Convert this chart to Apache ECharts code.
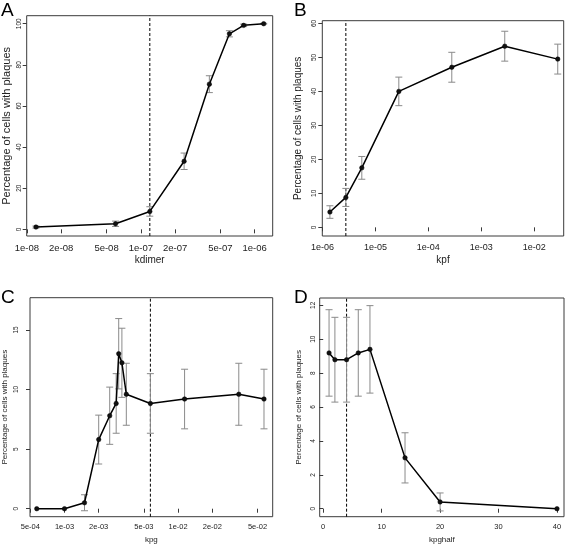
<!DOCTYPE html>
<html>
<head>
<meta charset="utf-8">
<script src="https://cdn.jsdelivr.net/npm/echarts@6/dist/echarts.min.js"></script>
<style>
html,body{margin:0;padding:0;background:#fff;}
#chart{width:567px;height:552px;}
</style>
</head>
<body>
<div id="chart"></div>
<script>
// ---- Panel A: kdimer ----
const kdimer = [1.2e-8, 6e-8, 1.2e-7, 2.4e-7, 4e-7, 6e-7, 8e-7, 1.2e-6];
const pctA = [1.1, 2.7, 8.7, 33.1, 70.6, 95.1, 99.2, 100];
const errA = [0.5, 1.3, 2.3, 4.0, 4.1, 1.5, 0.6, 0.2];
const vlineA = 1.2e-7;
const xTicksA = [1e-8, 2e-8, 5e-8, 1e-7, 2e-7, 5e-7, 1e-6];
const xLabelsA = ['1e-08', '2e-08', '5e-08', '1e-07', '2e-07', '5e-07', '1e-06'];
const yTicksA = [0, 20, 40, 60, 80, 100];

// ---- Panel B: kpf ----
const kpf = [1.385e-6, 2.77e-6, 5.54e-6, 2.77e-5, 2.77e-4, 2.77e-3, 2.77e-2];
const pctB = [4.5, 8.8, 17.5, 40.0, 47.1, 53.3, 49.5];
const errB = [1.85, 2.65, 3.35, 4.2, 4.4, 4.4, 4.4];
const vlineB = 2.77e-6;
const xTicksB = [1e-6, 1e-5, 1e-4, 1e-3, 1e-2];
const xLabelsB = ['1e-06', '1e-05', '1e-04', '1e-03', '1e-02'];
const yTicksB = [0, 10, 20, 30, 40, 50, 60];

// ---- Panel C: kpg ----
const kpg = [5.7e-4, 1e-3, 1.5e-3, 2e-3, 2.5e-3, 2.85e-3, 3e-3, 3.2e-3, 3.5e-3, 5.7e-3, 1.14e-2, 3.42e-2, 5.7e-2];
const pctC = [0, 0, 0.5, 5.8, 7.8, 8.83, 13.0, 12.24, 9.6, 8.83, 9.2, 9.6, 9.2];
const errC = [0, 0, 0.67, 2.05, 2.4, 2.5, 2.95, 2.9, 2.6, 2.5, 2.5, 2.6, 2.5];
const vlineC = 5.7e-3;
const xTicksC = [5e-4, 1e-3, 2e-3, 5e-3, 1e-2, 2e-2, 5e-2];
const xLabelsC = ['5e-04', '1e-03', '2e-03', '5e-03', '1e-02', '2e-02', '5e-02'];
const yTicksC = [0, 5, 10, 15];

// ---- Panel D: kpghalf ----
const kpghalf = [1, 2, 4, 6, 8, 14, 20, 40];
const pctD = [9.19, 8.79, 8.79, 9.19, 9.4, 3.0, 0.4, 0];
const errD = [2.55, 2.5, 2.5, 2.55, 2.58, 1.48, 0.53, 0];
const vlineD = 4;
const xTicksD = [0, 10, 20, 30, 40];
const xLabelsD = ['0', '10', '20', '30', '40'];
const yTicksD = [0, 2, 4, 6, 8, 10, 12];

const yTitle = 'Percentage of cells with plaques';
const FONT = '"Liberation Sans", Arial, Helvetica, sans-serif';

const panels = [
  {letter:'A', xname:'kdimer', xs:kdimer, ys:pctA, es:errA, vline:vlineA, xt:xTicksA, xl:xLabelsA, yt:yTicksA,
   log:true, xmin:0.995e-8, xmax:1.44e-6, ymin:-3.24, ymax:103.9,
   grid:{left:26.7, top:15.7, width:246, height:220.3},
   xfs:9.5, xmargin:7, yfs:6.5, ymargin:4, ytfs:11, ytx:7, xtfs:10, xty:260,
   lx:1, ly:1},
  {letter:'B', xname:'kpf', xs:kpf, ys:pctB, es:errB, vline:vlineB, xt:xTicksB, xl:xLabelsB, yt:yTicksB,
   log:true, xmin:0.995e-6, xmax:0.0359, ymin:-2.55, ymax:60.8,
   grid:{left:322.3, top:20.7, width:241.4, height:215.3},
   xfs:9, xmargin:7, yfs:6.5, ymargin:5, ytfs:10, ytx:298.5, xtfs:10, xty:260,
   lx:294, ly:1},
  {letter:'C', xname:'kpg', xs:kpg, ys:pctC, es:errC, vline:vlineC, xt:xTicksC, xl:xLabelsC, yt:yTicksC,
   log:true, xmin:4.97e-4, xmax:0.068, ymin:-0.67, ymax:17.7,
   grid:{left:30, top:297.7, width:242.7, height:219},
   xfs:7.5, xmargin:6, yfs:6.5, ymargin:10, ytfs:8, ytx:4.5, xtfs:8, xty:540,
   lx:1, ly:288},
  {letter:'D', xname:'kpghalf', xs:kpghalf, ys:pctD, es:errD, vline:vlineD, xt:xTicksD, xl:xLabelsD, yt:yTicksD,
   log:false, xmin:-0.6, xmax:41.2, ymin:-0.47, ymax:12.43,
   grid:{left:319.7, top:298, width:244.3, height:218.7},
   xfs:7.5, xmargin:6, yfs:6.5, ymargin:3, ytfs:8, ytx:298.5, xtfs:8, xty:540,
   lx:294, ly:288}
];

const grids = [], xAxes = [], yAxes = [], series = [], graphics = [];

function nearestLabel(v, ticks, labels, log) {
  let best = 0, bd = Infinity;
  for (let i = 0; i < ticks.length; i++) {
    const d = log ? Math.abs(Math.log10(v) - Math.log10(ticks[i])) : Math.abs(v - ticks[i]);
    if (d < bd) { bd = d; best = i; }
  }
  return bd < 0.01 ? labels[best] : '';
}

panels.forEach((p, i) => {
  grids.push(Object.assign({show:true, borderColor:'#3a3a3a', borderWidth:1, backgroundColor:'transparent', containLabel:false}, p.grid));
  xAxes.push({
    type: p.log ? 'log' : 'value', logBase: 10, gridIndex: i, min: p.xmin, max: p.xmax,
    axisLine: {show:false}, splitLine: {show:false},
    axisTick: {show:true, length:4, lineStyle:{color:'#3a3a3a'}, customValues: p.xt},
    axisLabel: {show:true, customValues: p.xt, fontSize:p.xfs, color:'#222', fontFamily:FONT, margin:p.xmargin,
      formatter: (v) => nearestLabel(v, p.xt, p.xl, p.log)},
    minorTick:{show:false}
  });
  yAxes.push({
    type:'value', gridIndex:i, min:p.ymin, max:p.ymax,
    axisLine:{show:false}, splitLine:{show:false},
    axisTick:{show:true, length:4, lineStyle:{color:'#3a3a3a'}, customValues:p.yt},
    axisLabel:{show:true, customValues:p.yt, rotate:90, fontSize:p.yfs, color:'#222', fontFamily:FONT, margin:p.ymargin,
      formatter:(v) => String(Math.round(v))}
  });
  // dashed reference line spanning the full y range
  series.push({
    type:'custom', xAxisIndex:i, yAxisIndex:i, data:[[p.vline, p.ymin, p.ymax]], encode:{x:0, y:[1,2]}, z:1, silent:true,
    renderItem:(params, api) => {
      const a = api.coord([api.value(0), api.value(1)]);
      const b = api.coord([api.value(0), api.value(2)]);
      return {type:'line', shape:{x1:a[0], y1:a[1], x2:b[0], y2:b[1]},
        style:{stroke:'#000', lineWidth:1, lineDash:[3,2]}};
    }
  });
  const errData = [];
  p.xs.forEach((x, k) => { if (p.es[k] > 0) errData.push([x, p.ys[k] - p.es[k], p.ys[k] + p.es[k]]); });
  series.push({
    type:'custom', xAxisIndex:i, yAxisIndex:i, data:errData, encode:{x:0, y:[1,2]}, z:2, silent:true,
    renderItem:(params, api) => {
      const x = api.value(0);
      const a = api.coord([x, api.value(1)]);
      const b = api.coord([x, api.value(2)]);
      const w = 3.5, st = {stroke:'#8a8a8a', lineWidth:1};
      return {type:'group', children:[
        {type:'line', shape:{x1:a[0], y1:a[1], x2:b[0], y2:b[1]}, style:st},
        {type:'line', shape:{x1:a[0]-w, y1:a[1], x2:a[0]+w, y2:a[1]}, style:st},
        {type:'line', shape:{x1:b[0]-w, y1:b[1], x2:b[0]+w, y2:b[1]}, style:st}
      ]};
    }
  });
  series.push({
    type:'line', xAxisIndex:i, yAxisIndex:i, z:3, silent:true,
    data: p.xs.map((x, k) => [x, p.ys[k]]),
    symbol:'circle', symbolSize:4.5, showSymbol:true,
    itemStyle:{color:'#111', borderColor:'#000', borderWidth:0.5},
    lineStyle:{color:'#000', width:1.5},
    animation:false
  });
  const gc = p.grid.top + p.grid.height / 2;
  const xc = p.grid.left + p.grid.width / 2;
  graphics.push({type:'text', x:p.ytx, y:gc, rotation:Math.PI/2,
    style:{text:yTitle, font:`${p.ytfs}px ${FONT}`, fill:'#222', align:'center', verticalAlign:'middle'}});
  graphics.push({type:'text', x:xc, y:p.xty,
    style:{text:p.xname, font:`${p.xtfs}px ${FONT}`, fill:'#222', align:'center', verticalAlign:'middle'}});
  graphics.push({type:'text', x:p.lx, y:p.ly,
    style:{text:p.letter, font:`19px ${FONT}`, fill:'#000', align:'left', verticalAlign:'top'}});
});

const chart = echarts.init(document.getElementById('chart'), null, {renderer:'canvas'});
chart.setOption({
  animation:false,
  backgroundColor:'#fff',
  grid:grids, xAxis:xAxes, yAxis:yAxes, series:series, graphic:graphics
});
</script>
</body>
</html>
